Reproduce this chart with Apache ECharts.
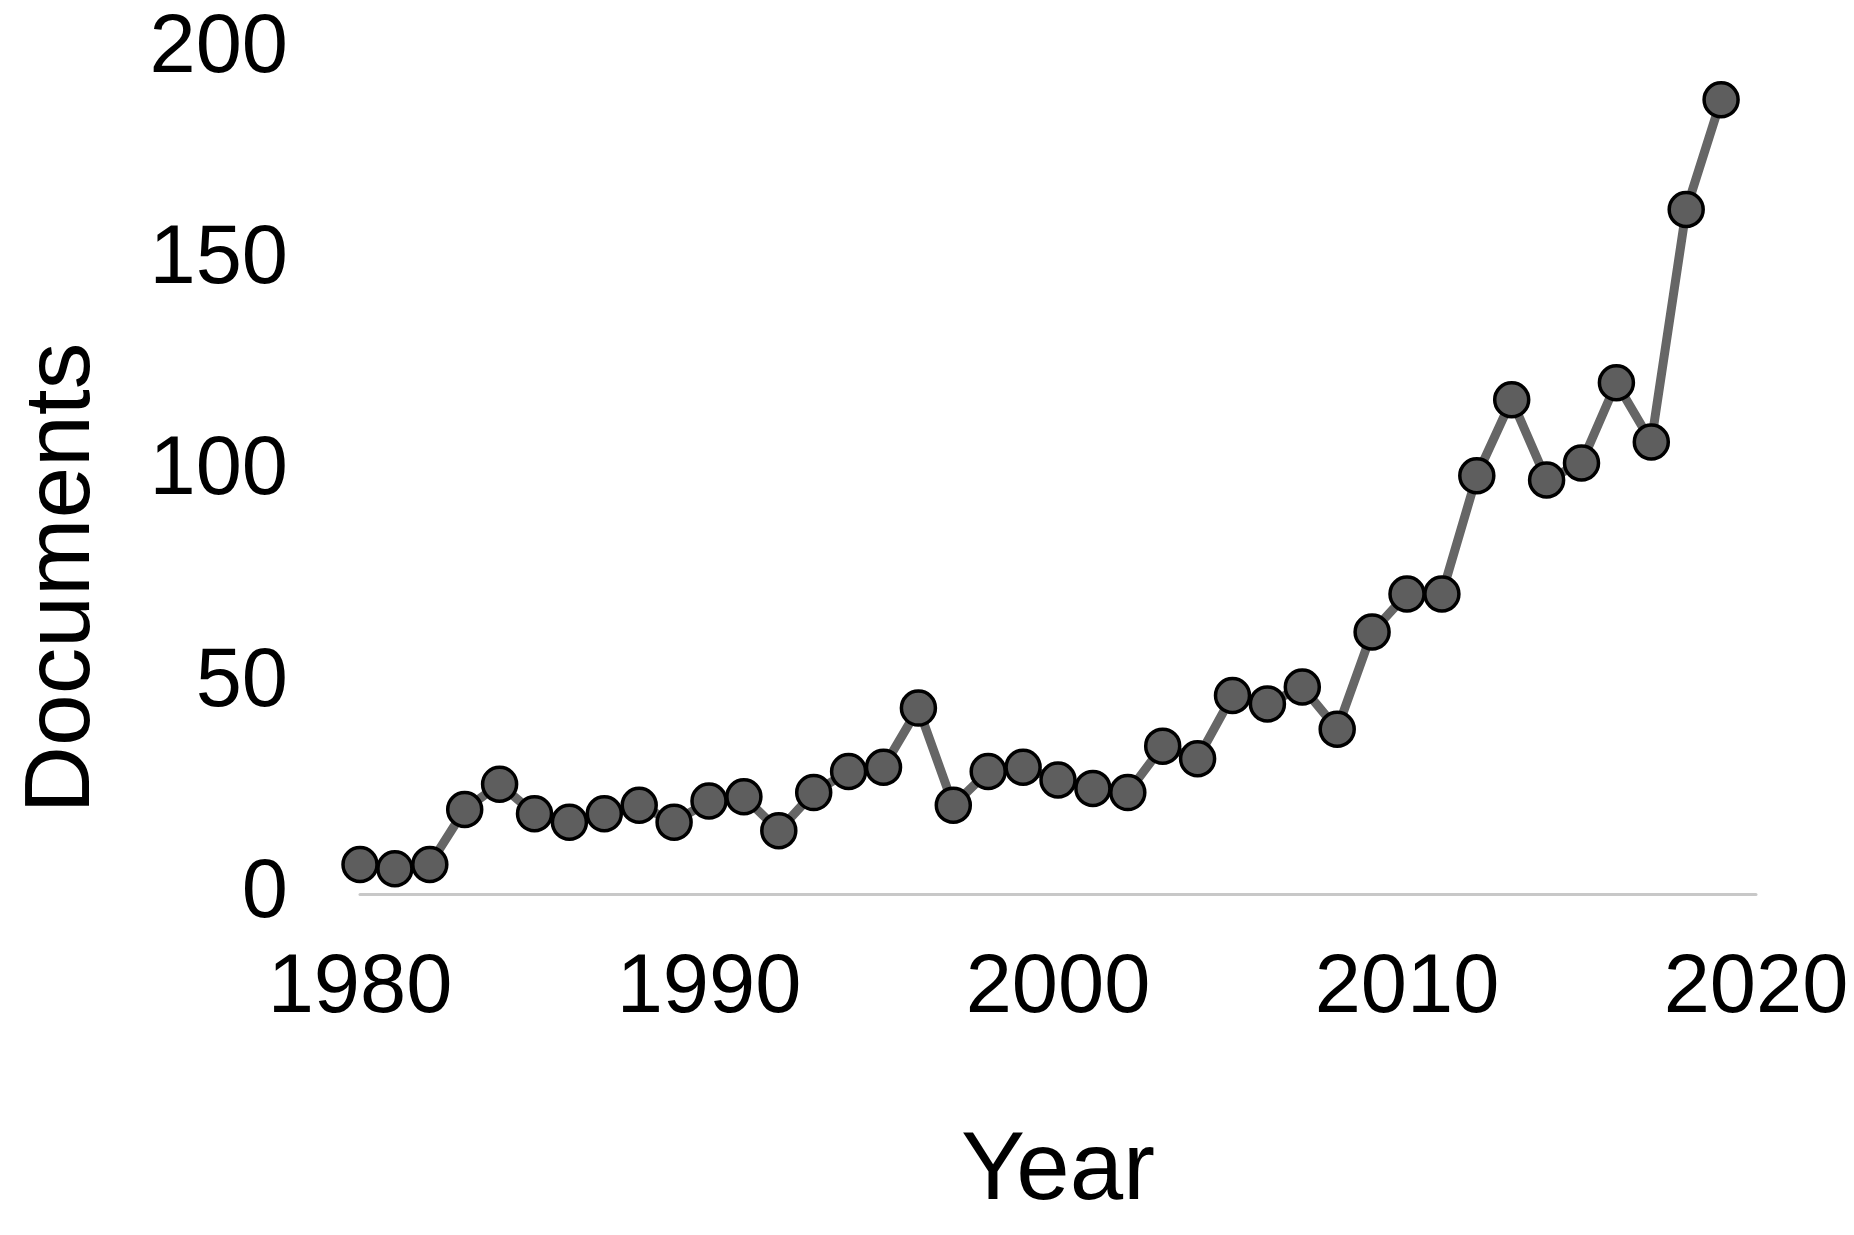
<!DOCTYPE html>
<html>
<head>
<meta charset="utf-8">
<script src="https://cdn.jsdelivr.net/npm/echarts@6/dist/echarts.min.js"></script>
<style>
  html, body { margin: 0; padding: 0; background: #ffffff; }
  #chart { width: 1854px; height: 1235px; }
</style>
</head>
<body>
<div id="chart"></div>
<script>
const years = [1980, 1981, 1982, 1983, 1984, 1985, 1986, 1987, 1988, 1989,
               1990, 1991, 1992, 1993, 1994, 1995, 1996, 1997, 1998, 1999,
               2000, 2001, 2002, 2003, 2004, 2005, 2006, 2007, 2008, 2009,
               2010, 2011, 2012, 2013, 2014, 2015, 2016, 2017, 2018, 2019];
const documents = [7, 6, 7, 20, 26, 19, 17, 19, 21, 17,
                   22, 23, 15, 24, 29, 30, 44, 21, 29, 30,
                   27, 25, 24, 35, 32, 47, 45, 49, 39, 62,
                   71, 71, 99, 117, 98, 102, 121, 107, 162, 188];
const xTicks = [1980, 1990, 2000, 2010, 2020];
const yTicks = [0, 50, 100, 150, 200];
const xTitle = 'Year';
const yTitle = 'Documents';

const font = '"Liberation Sans", Arial, sans-serif';
const chart = echarts.init(document.getElementById('chart'), null, { renderer: 'canvas' });
chart.setOption({
  backgroundColor: '#ffffff',
  animation: false,
  grid: { left: 360, right: 98, top: 49, bottom: 341, containLabel: false },
  xAxis: {
    type: 'value',
    min: xTicks[0],
    max: xTicks[xTicks.length - 1],
    interval: xTicks[1] - xTicks[0],
    name: xTitle,
    nameLocation: 'middle',
    nameGap: 231,
    nameTextStyle: { fontFamily: font, fontSize: 96, color: '#000000' },
    axisLine: { show: true, lineStyle: { color: '#c8c8c8', width: 3 } },
    axisTick: { show: false },
    splitLine: { show: false },
    axisLabel: {
      fontFamily: font, fontSize: 83, color: '#000000', margin: 54,
      formatter: v => String(v)
    }
  },
  yAxis: {
    type: 'value',
    min: yTicks[0],
    max: yTicks[yTicks.length - 1],
    interval: yTicks[1] - yTicks[0],
    name: yTitle,
    nameLocation: 'middle',
    nameGap: 250,
    nameTextStyle: { fontFamily: font, fontSize: 93, color: '#000000', padding: [0, 213, 0, 0] },
    axisLine: { show: false },
    axisTick: { show: false },
    splitLine: { show: false },
    axisLabel: {
      fontFamily: font, fontSize: 83, color: '#000000', margin: 72,
      formatter: v => String(v)
    }
  },
  series: [{
    type: 'line',
    data: years.map((y, i) => [y, documents[i]]),
    symbol: 'circle',
    symbolSize: 34,
    lineStyle: { color: '#666666', width: 9 },
    itemStyle: { color: '#5e5e5e', borderColor: '#000000', borderWidth: 3.5 },
    z: 3
  }]
});
</script>
</body>
</html>
